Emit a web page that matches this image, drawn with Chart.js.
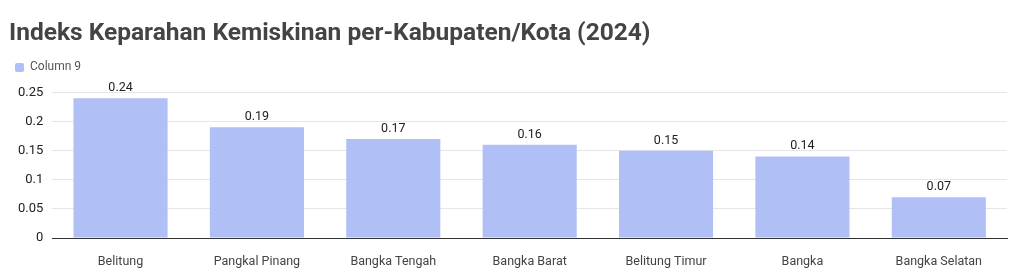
<!DOCTYPE html>
<html><head><meta charset="utf-8">
<script src="https://cdn.jsdelivr.net/npm/chart.js@4"></script>
<style>html,body{margin:0;padding:0;background:#fff}#w{width:1024px;height:279px}</style>
</head><body><div id="w"><canvas id="c"></canvas></div>
<script>
const categories = ["Belitung","Pangkal Pinang","Bangka Tengah","Bangka Barat","Belitung Timur","Bangka","Bangka Selatan"];
const seriesName = "Column 9";
const values = [0.24,0.19,0.17,0.16,0.15,0.14,0.07];
const yTicks = [0,0.05,0.1,0.15,0.2,0.25];

const labelPlugin = {
  id:'vlabels',
  afterDatasetsDraw(chart){
    const ctx=chart.ctx; const meta=chart.getDatasetMeta(0);
    ctx.save(); ctx.font='12.5px Roboto'; ctx.fillStyle='#222'; ctx.textAlign='center'; ctx.textBaseline='bottom';
    meta.data.forEach((b,i)=>{ ctx.fillText(String(values[i]), b.x, b.y-4); });
    ctx.restore();
  }
};
const legendGap = {
  id:'legendGap',
  beforeInit(chart){
    const orig = chart.legend.fit;
    chart.legend.fit = function(){ orig.call(this); this.height += 9; };
  }
};
new Chart(document.getElementById('c'),{
  type:'bar',
  data:{labels:categories,datasets:[{label:seriesName,data:values,backgroundColor:'#b0bff5',borderWidth:0,categoryPercentage:1,barPercentage:0.69}]},
  options:{
    responsive:true,maintainAspectRatio:false,animation:false,
    layout:{padding:{left:9,right:17,top:0,bottom:-6}},
    plugins:{
      title:{display:true,text:'Indeks Keparahan Kemiskinan per-Kabupaten/Kota (2024)',align:'start',color:'#444',font:{family:'Roboto',size:24.5,weight:'bold'},padding:{top:19,bottom:7}},
      legend:{display:true,align:'start',labels:{boxWidth:9,boxHeight:9,color:'#555',font:{family:'Roboto',size:12},padding:6,useBorderRadius:true,borderRadius:2}},
      tooltip:{enabled:false}
    },
    scales:{
      x:{grid:{display:false,drawTicks:false},border:{display:true,color:'#333',width:1},ticks:{color:'#444',font:{family:'Roboto',size:12.5},padding:16,maxRotation:0,autoSkip:false}},
      y:{min:0,max:0.25,afterBuildTicks(ax){ax.ticks=yTicks.map(v=>({value:v}));},grid:{color:'#e6e6e6',drawTicks:false},border:{display:false},ticks:{color:'#222',font:{family:'Roboto',size:13},padding:9,callback:v=>String(v)}}
    }
  },
  plugins:[labelPlugin, legendGap]
});
</script></body></html>
